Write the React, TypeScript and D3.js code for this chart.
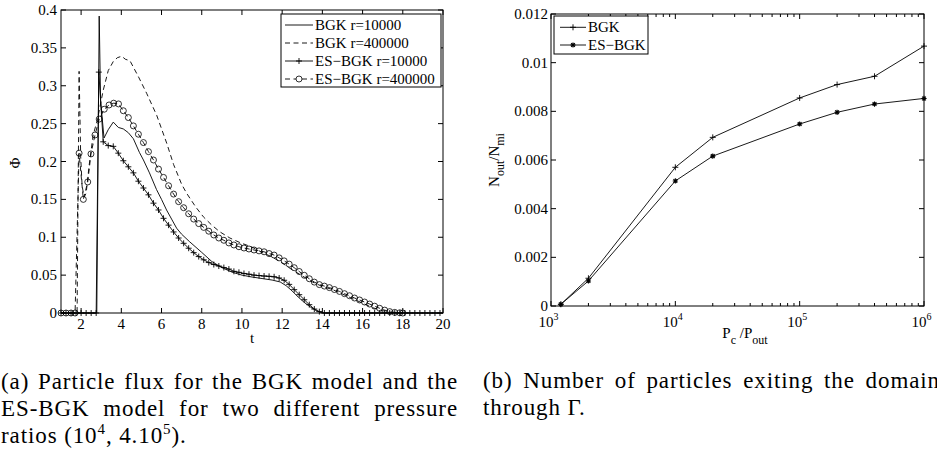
import React, { useEffect, useRef } from "react";
import * as d3 from "d3";

// ---------- Left chart (a): particle flux ----------
const tTicks = [2, 4, 6, 8, 10, 12, 14, 16, 18, 20];
const phiTicks = [0, 0.05, 0.1, 0.15, 0.2, 0.25, 0.3, 0.35, 0.4];
const phiTickLabels = ["0", "0.05", "0.1", "0.15", "0.2", "0.25", "0.3", "0.35", "0.4"];

// BGK r=10000 (solid)
const bgk1T = [1, 2.78, 2.9, 2.97, 3.14, 3.35, 3.6, 3.85, 4.1, 4.35, 4.6, 4.9, 5.1, 5.4, 5.75, 6.0, 6.25, 6.5, 6.75, 7.0, 7.4, 8.0, 8.5, 9.0, 9.5, 10.0, 10.5, 11.0, 11.5, 11.9, 12.2, 12.5, 12.8, 13.1, 13.4, 13.7, 14.0, 20];
const bgk1V = [0, 0, 0.392, 0.28, 0.231, 0.242, 0.252, 0.245, 0.243, 0.238, 0.23, 0.212, 0.202, 0.185, 0.163, 0.15, 0.136, 0.124, 0.112, 0.104, 0.094, 0.08, 0.068, 0.06, 0.054, 0.05, 0.0475, 0.0455, 0.0435, 0.041, 0.036, 0.029, 0.021, 0.014, 0.008, 0.003, 0, 0];

// BGK r=400000 (dashed)
const bgk4T = [1, 1.8, 1.9, 1.98, 2.05, 2.15, 2.25, 2.4, 2.6, 2.81, 3.1, 3.35, 3.6, 3.8, 4.02, 4.2, 4.43, 4.85, 5.26, 5.76, 6.26, 6.6, 7.0, 7.25, 7.7, 8.08, 8.5, 8.91, 9.4, 9.9, 10.5, 11.0, 11.5, 12.0, 12.5, 13.0, 13.5, 14.0, 14.5, 15.0, 15.5, 16.0, 16.5, 17.0, 17.5, 18.0];
const bgk4V = [0, 0, 0.319, 0.206, 0.168, 0.153, 0.158, 0.195, 0.235, 0.255, 0.294, 0.32, 0.332, 0.337, 0.339, 0.335, 0.333, 0.312, 0.29, 0.261, 0.224, 0.196, 0.17, 0.158, 0.14, 0.127, 0.116, 0.107, 0.099, 0.093, 0.087, 0.08, 0.074, 0.066, 0.057, 0.049, 0.041, 0.035, 0.031, 0.025, 0.019, 0.013, 0.007, 0.003, 0.0005, 0];

// ES-BGK r=10000 (solid, + markers)
const es1T = [1, 1.25, 1.5, 1.75, 2, 2.25, 2.5, 2.75, 2.88, 3.1, 3.35, 3.6,
  3.85, 4.1, 4.35, 4.6, 4.85, 5.1, 5.35, 5.6, 5.85, 6.1, 6.35, 6.6, 6.85, 7.1, 7.35, 7.6, 7.85, 8.1,
  8.35, 8.6, 8.85, 9.1, 9.35, 9.6, 9.85, 10.1, 10.35, 10.6, 10.85, 11.1, 11.35, 11.6, 11.85, 12.1,
  12.35, 12.6, 12.85, 13.1, 13.35, 13.6, 13.85,
  14.1, 14.35, 14.6, 14.85, 15.1, 15.35, 15.6, 15.85, 16.1, 16.35, 16.6, 16.85, 17.1, 17.35, 17.6, 17.85,
  18.1, 18.35, 18.6, 18.85, 19.1, 19.35, 19.6, 19.85];
const es1V = [0, 0, 0, 0, 0, 0, 0, 0, 0.318, 0.226, 0.221, 0.22,
  0.211, 0.201, 0.193, 0.185, 0.174, 0.165, 0.156, 0.145, 0.136, 0.125, 0.116, 0.107, 0.099, 0.092, 0.0855, 0.0797, 0.0745, 0.0702,
  0.0666, 0.064, 0.062, 0.06, 0.058, 0.055, 0.0537, 0.0522, 0.0512, 0.05, 0.0494, 0.0488, 0.0484, 0.0478, 0.0462, 0.0432,
  0.0378, 0.0308, 0.0242, 0.0175, 0.011, 0.0052, 0.0018,
  0, 0, 0, 0, 0, 0, 0, 0, 0, 0, 0, 0, 0, 0, 0, 0,
  0, 0, 0, 0, 0, 0, 0, 0];

// ES-BGK r=400000 (dashed, o markers)
const es4T = [1, 1.25, 1.5, 1.7, 1.9, 2.11, 2.33, 2.49, 2.69, 2.9, 3.15, 3.39, 3.62, 3.86, 4.1, 4.35, 4.6, 4.85, 5.1, 5.35,
  5.6, 5.85, 6.1, 6.35, 6.6, 6.85, 7.1, 7.35, 7.6, 7.85, 8.1, 8.35, 8.6, 8.85, 9.1, 9.35, 9.6, 9.85, 10.1, 10.35,
  10.6, 10.85, 11.1, 11.35, 11.6, 11.85, 12.1, 12.35, 12.6, 12.85, 13.1, 13.35, 13.6, 13.85, 14.1, 14.35, 14.6, 14.85,
  15.1, 15.35, 15.6, 15.85, 16.1, 16.35, 16.6, 16.85, 17.1, 17.35, 17.6, 17.85, 18.0];
const es4V = [0, 0, 0, 0, 0.211, 0.15, 0.173, 0.21, 0.235, 0.256, 0.269, 0.2746, 0.277, 0.276, 0.267, 0.258, 0.247, 0.236, 0.225, 0.213,
  0.202, 0.19, 0.179, 0.168, 0.157, 0.147, 0.139, 0.131, 0.124, 0.118, 0.113, 0.108, 0.103, 0.099, 0.096, 0.0925, 0.0898, 0.0875, 0.0858, 0.0845,
  0.0832, 0.082, 0.0808, 0.0785, 0.0765, 0.0728, 0.0688, 0.0645, 0.0598, 0.0548, 0.0498, 0.0452, 0.0408, 0.0375, 0.0355, 0.0335, 0.031, 0.0285,
  0.0255, 0.0228, 0.0198, 0.0172, 0.0145, 0.0118, 0.009, 0.0062, 0.0038, 0.0018, 0.0008, 0.0003, 0];

const leftLegend = ["BGK r=10000", "BGK r=400000", "ES\u2212BGK r=10000", "ES\u2212BGK r=400000"];

// ---------- Right chart (b): particles exiting ----------
const ratios = [1200, 2000, 10000, 20000, 100000, 200000, 400000, 1000000];
const bgkOut = [0.00007, 0.00114, 0.0057, 0.00693, 0.00855, 0.0091, 0.00944, 0.01068];
const esOut = [0.00007, 0.00103, 0.00514, 0.00616, 0.00748, 0.00796, 0.0083, 0.00853];
const nTicks = [0, 0.002, 0.004, 0.006, 0.008, 0.01, 0.012];
const nTickLabels = ["0", "0.002", "0.004", "0.006", "0.008", "0.01", "0.012"];
const decadeTicks = [1e3, 1e4, 1e5, 1e6];
const decadeExp = ["3", "4", "5", "6"];
const rightLegend = ["BGK", "ES\u2212BGK"];

const FONT = "'Liberation Serif', 'Times New Roman', serif";
const FS = 15;

const plusPath = "M-3,0H3M0,-3V3";
const starPath = "M-2.6,0H2.6M0,-2.6V2.6M-1.9,-1.9L1.9,1.9M-1.9,1.9L1.9,-1.9";

function zip(t: number[], v: number[]): [number, number][] {
  return t.map((d, i) => [d, v[i]]);
}

function LeftChart() {
  const x = d3.scaleLinear().domain([1, 20]).range([61, 443]);
  const y = d3.scaleLinear().domain([0, 0.4]).range([313, 10]);
  const line = d3.line<[number, number]>().x(d => x(d[0])).y(d => y(d[1]));
  const [x0, x1] = x.range();
  const [y0, y1] = y.range();
  const tl = 5;
  const s1 = zip(bgk1T, bgk1V);
  const s2 = zip(bgk4T, bgk4V);
  const s3 = zip(es1T, es1V);
  const s4 = zip(es4T, es4V);
  const dash = "5,3.5";
  const lw = 0.9;
  return (
    <g fontFamily={FONT} fontSize={FS} fill="#000">
      <path d={line(s1) || ""} fill="none" stroke="#000" strokeWidth={lw} />
      <path d={line(s2) || ""} fill="none" stroke="#000" strokeWidth={lw} strokeDasharray={dash} />
      <path d={line(s3) || ""} fill="none" stroke="#000" strokeWidth={lw} />
      <path d={line(s4) || ""} fill="none" stroke="#000" strokeWidth={lw} strokeDasharray={dash} />
      {s3.map((d, i) => (
        <path key={"p" + i} d={plusPath} transform={`translate(${x(d[0])},${y(d[1])})`} stroke="#000" strokeWidth={0.9} fill="none" />
      ))}
      {s4.map((d, i) => (
        <circle key={"c" + i} cx={x(d[0])} cy={y(d[1])} r={3} stroke="#000" strokeWidth={0.8} fill="none" />
      ))}
      {/* axes box */}
      <rect x={x0} y={y1} width={x1 - x0} height={y0 - y1} fill="none" stroke="#000" strokeWidth={1} />
      {tTicks.map(t => (
        <g key={"tx" + t}>
          <line x1={x(t)} x2={x(t)} y1={y0} y2={y0 - tl} stroke="#000" />
          <line x1={x(t)} x2={x(t)} y1={y1} y2={y1 + tl} stroke="#000" />
          <text x={x(t)} y={328.5} textAnchor="middle">{t}</text>
        </g>
      ))}
      {phiTicks.map((p, i) => (
        <g key={"ty" + i}>
          <line x1={x0} x2={x0 + tl} y1={y(p)} y2={y(p)} stroke="#000" />
          <line x1={x1} x2={x1 - tl} y1={y(p)} y2={y(p)} stroke="#000" />
          <text x={57} y={y(p) + 5} textAnchor="end">{phiTickLabels[i]}</text>
        </g>
      ))}
      <text x={(x0 + x1) / 2} y={343} textAnchor="middle">t</text>
      <text transform={`translate(20,163) rotate(-90)`} textAnchor="middle">Φ</text>
      {/* legend */}
      <rect x={281} y={14} width={160} height={73} fill="#fff" stroke="#000" strokeWidth={1} />
      {leftLegend.map((lab, i) => {
        const ry = 25 + i * 18;
        return (
          <g key={"lg" + i}>
            <line x1={285} x2={313} y1={ry} y2={ry} stroke="#000" strokeWidth={lw} strokeDasharray={i % 2 === 1 ? dash : undefined} />
            {i === 2 && <path d={plusPath} transform={`translate(299,${ry})`} stroke="#000" strokeWidth={0.9} />}
            {i === 3 && <circle cx={299} cy={ry} r={3} stroke="#000" strokeWidth={0.8} fill="#fff" />}
            <text x={315} y={ry + 5}>{lab}</text>
          </g>
        );
      })}
    </g>
  );
}

function RightChart() {
  const x = d3.scaleLog().domain([1e3, 1e6]).range([551, 924]);
  const y = d3.scaleLinear().domain([0, 0.012]).range([306, 14]);
  const line = d3.line<[number, number]>().x(d => x(d[0])).y(d => y(d[1]));
  const [x0, x1] = x.range();
  const [y0, y1] = y.range();
  const s1 = zip(ratios, bgkOut);
  const s2 = zip(ratios, esOut);
  const minor = x.ticks().filter(v => !decadeTicks.includes(v));
  const lw = 0.9;
  return (
    <g fontFamily={FONT} fontSize={FS} fill="#000">
      <path d={line(s1) || ""} fill="none" stroke="#000" strokeWidth={lw} />
      <path d={line(s2) || ""} fill="none" stroke="#000" strokeWidth={lw} />
      {s1.map((d, i) => (
        <path key={"b" + i} d={plusPath} transform={`translate(${x(d[0])},${y(d[1])})`} stroke="#000" strokeWidth={0.9} />
      ))}
      {s2.map((d, i) => (
        <path key={"e" + i} d={starPath} transform={`translate(${x(d[0])},${y(d[1])})`} stroke="#000" strokeWidth={1.1} />
      ))}
      <rect x={x0} y={y1} width={x1 - x0} height={y0 - y1} fill="none" stroke="#000" strokeWidth={1} />
      {minor.map((v, i) => (
        <g key={"m" + i}>
          <line x1={x(v)} x2={x(v)} y1={y0} y2={y0 - 3} stroke="#000" />
          <line x1={x(v)} x2={x(v)} y1={y1} y2={y1 + 3} stroke="#000" />
        </g>
      ))}
      {decadeTicks.map((v, i) => (
        <g key={"d" + i}>
          <line x1={x(v)} x2={x(v)} y1={y0} y2={y0 - 5} stroke="#000" />
          <line x1={x(v)} x2={x(v)} y1={y1} y2={y1 + 5} stroke="#000" />
          <text x={x(v) - 2.5} y={326.5} textAnchor="middle">
            10<tspan fontSize={10} dy={-7}>{decadeExp[i]}</tspan>
          </text>
        </g>
      ))}
      {nTicks.map((v, i) => (
        <g key={"n" + i}>
          <line x1={x0} x2={x0 + 5} y1={y(v)} y2={y(v)} stroke="#000" />
          <line x1={x1} x2={x1 - 5} y1={y(v)} y2={y(v)} stroke="#000" />
          <text x={548} y={y(v) + 5} textAnchor="end">{nTickLabels[i]}</text>
        </g>
      ))}
      <text x={745} y={338} textAnchor="middle">
        P<tspan fontSize={12} dy={5.5}>c</tspan><tspan dy={-5.5}> /P</tspan><tspan fontSize={12} dy={5.5}>out</tspan>
      </text>
      <text transform={`translate(499,160) rotate(-90)`} textAnchor="middle">
        N<tspan fontSize={12} dy={5}>out</tspan><tspan dy={-5}>/N</tspan><tspan fontSize={12} dy={5}>mi</tspan>
      </text>
      {/* legend */}
      <rect x={554} y={16} width={94} height={38} fill="#fff" stroke="#000" strokeWidth={1} />
      {rightLegend.map((lab, i) => {
        const ry = 27.3 + i * 17.7;
        return (
          <g key={"rl" + i}>
            <line x1={560} x2={586} y1={ry} y2={ry} stroke="#000" strokeWidth={lw} />
            <path d={i === 0 ? plusPath : starPath} transform={`translate(573,${ry})`} stroke="#000" strokeWidth={i === 0 ? 0.9 : 1.1} />
            <text x={588} y={ry + 5}>{lab}</text>
          </g>
        );
      })}
    </g>
  );
}

const capA = ["(a) Particle flux for the BGK model and the", "ES-BGK model for two different pressure"];
const capB = ["(b) Number of particles exiting the domain", "through Γ."];
const CAP_W = 457;

export default function App() {
  const ref = useRef<SVGSVGElement>(null);
  useEffect(() => {
    const apply = () => {
      const svg = ref.current;
      if (!svg) return;
      svg.querySelectorAll<SVGTextElement>("text[data-justify]").forEach(el => {
        const target = +(el.getAttribute("data-justify") || 0);
        el.style.wordSpacing = "0px";
        const natural = el.getComputedTextLength();
        const spaces = (el.textContent || "").split(" ").length - 1;
        if (spaces > 0) el.style.wordSpacing = `${Math.max(0, (target - natural) / spaces)}px`;
      });
    };
    apply();
    if ((document as any).fonts && (document as any).fonts.ready) (document as any).fonts.ready.then(apply);
  }, []);
  return (
    <svg ref={ref} width={937} height={457} style={{ position: "absolute", left: 0, top: 0, background: "#fff" }}>
      <rect width={937} height={457} fill="#fff" />
      <LeftChart />
      <RightChart />
      <g fontFamily={FONT} fontSize={23} fill="#000" style={{ letterSpacing: "0.9px" }}>
        <text x={1} y={389} data-justify={CAP_W}>{capA[0]}</text>
        <text x={1} y={416} data-justify={CAP_W}>{capA[1]}</text>
        <text x={1} y={443}>
          ratios (10<tspan fontSize={15} dy={-9}>4</tspan><tspan dy={9}>, 4.10</tspan><tspan fontSize={15} dy={-9}>5</tspan><tspan dy={9}>).</tspan>
        </text>
        <text x={483} y={388} data-justify={CAP_W}>{capB[0]}</text>
        <text x={483} y={415}>{capB[1]}</text>
      </g>
    </svg>
  );
}
